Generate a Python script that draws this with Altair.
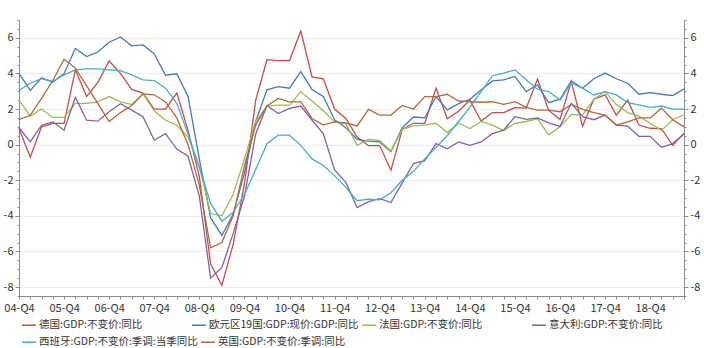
import altair as alt
import pandas as pd

# quarters 04-Q4 .. 19-Q3
quarters = [f"{y:02d}-Q{q}" for y in range(4, 20) for q in range(1, 5)][3:63]

names_a = ["德国:GDP:不变价:同比", "欧元区19国:GDP:现价:GDP:同比", "法国:GDP:不变价:同比", "意大利:GDP:不变价:同比"]
colors_a = ["#C0504D", "#4A78B8", "#9BBB59", "#8064A2"]
names_b = ["西班牙:GDP:不变价:季调:当季同比", "英国:GDP:不变价:季调:同比"]
colors_b = ["#4BACC6", "#B06A3A"]

de = [0.9, -0.7, 1.0, 1.2, 1.2, 4.2, 2.7, 3.5, 4.7, 4.0,
      3.1, 2.9, 2.0, 2.0, 2.9, 0.8, -1.8, -6.7, -7.9, -5.6,
      -2.2, 2.5, 4.77, 4.72, 4.72, 6.38, 3.8, 3.7, 2.0, 1.47,
      0.43, -0.05, -0.05, -1.45, 0.85, 1.2, 1.2, 3.17, 1.45, 1.88,
      2.5, 1.33, 1.8, 1.8, 2.08, 2.05, 3.68, 1.92, 1.42, 3.55,
      1.03, 2.55, 2.8, 1.65, 2.5, 1.1, 0.92, 0.9, -0.05, 0.65]
ez = [4.0, 3.05, 3.75, 3.5, 4.0, 5.4, 4.95, 5.2, 5.75, 6.05,
      5.55, 5.6, 5.1, 3.9, 3.98, 2.7, -0.8, -4.1, -5.1, -3.9,
      -1.6, 1.3, 3.08, 3.26, 3.17, 4.1, 3.1, 2.7, 1.4, 0.95,
      0.3, 0.2, 0.15, -0.4, 0.95, 1.55, 1.5, 2.7, 1.95, 2.3,
      2.55, 3.07, 3.58, 3.64, 3.83, 2.98, 3.36, 2.36, 2.55, 3.58,
      3.17, 3.7, 4.02, 3.7, 3.45, 2.83, 2.92, 2.83, 2.75, 3.13]
fr = [2.5, 1.6, 2.0, 1.53, 1.53, 2.32, 2.32, 2.4, 2.7, 2.4,
      2.25, 2.85, 1.9, 1.37, 1.09, 0.43, -1.2, -3.87, -4.0, -2.8,
      -0.8, 1.3, 2.17, 2.22, 2.22, 2.98, 2.45, 1.9, 1.28, 1.17,
      -0.04, 0.3, 0.22, -0.35, 0.85, 1.05, 1.1, 1.2, 0.68, 1.2,
      0.9, 1.3, 1.1, 0.8, 1.2, 1.3, 1.45, 0.55, 1.0, 1.7,
      1.66, 2.55, 2.98, 2.25, 1.8, 1.6, 1.2, 0.8, 1.4, 1.68]
it = [0.95, 0.17, 1.09, 1.28, 0.81, 2.66, 1.37, 1.32, 1.85, 2.3,
      1.94, 1.57, 0.25, 0.62, -0.25, -0.65, -2.9, -7.5, -6.9, -5.0,
      -2.9, 0.6, 2.2, 1.75, 2.04, 2.17, 1.37, 0.62, -1.42, -2.12,
      -3.53, -3.2, -3.03, -3.25, -2.15, -1.06, -0.9, 0.06, -0.23, 0.15,
      -0.04, 0.15, 0.62, 0.81, 1.57, 1.42, 1.5, 1.22, 1.02, 2.32,
      1.57, 1.4, 1.66, 1.09, 1.04, 0.47, 0.47, -0.15, 0.06, 0.6]
es = [3.04, 3.45, 3.7, 3.55, 3.92, 4.2, 4.25, 4.25, 4.2, 4.15,
      3.92, 3.64, 3.6, 3.17, 2.32, 0.6, -1.3, -3.3, -4.3, -3.8,
      -2.8, -1.4, 0.05, 0.53, 0.53, -0.04, -0.8, -1.17, -1.74, -2.4,
      -3.15, -3.06, -3.1, -2.7, -2.0, -1.5, -0.8, -0.15, 0.5, 1.3,
      2.1, 2.98, 3.87, 4.02, 4.2, 3.64, 3.11, 2.98, 2.5, 3.45,
      3.17, 2.79, 2.98, 2.79, 2.36, 2.23, 2.09, 2.17, 2.0, 2.0]
uk = [1.4, 1.65, 2.6, 3.6, 4.8, 4.3, 3.3, 2.3, 1.3, 1.8,
      2.2, 2.85, 2.8, 2.4, 1.5, 0.0, -2.3, -5.8, -5.5, -4.0,
      -1.2, 1.1, 2.17, 2.6, 2.4, 2.4, 1.47, 1.1, 1.28, 1.22,
      1.05, 1.98, 1.66, 1.66, 2.2, 2.0, 2.7, 2.7, 2.83, 2.45,
      2.42, 2.38, 2.41, 2.26, 2.41, 2.09, 1.94, 1.94, 1.85, 2.26,
      1.98, 1.8, 1.66, 1.1, 1.28, 1.5, 1.5, 2.05, 1.4, 1.0]

y_ticks = [v / 2 for v in range(-17, 15)]
y_domain = [-8.5, 7]

def long(names, series):
    rows = []
    for n, s in zip(names, series):
        for q, v in zip(quarters, s):
            rows.append({"quarter": q, "series": n, "value": v})
    return pd.DataFrame(rows)

df_a = long(names_a, [de, ez, fr, it])
df_b = long(names_b, [es, uk])

FONT = "Noto Sans CJK SC"
major = "datum.value % 2 === 0"
lab = f"{major} ? (datum.value < 0 ? '-' + abs(datum.value) : '' + datum.value) : ''"
AX = "#8C8C8C"

x_enc = alt.X(
    "quarter:O", sort=quarters,
    scale=alt.Scale(type="point", padding=0),
    axis=alt.Axis(title=None, labelAngle=0, labelOverlap=False,
                  labelExpr="slice(datum.label, 3) == 'Q4' ? datum.label : ''",
                  tickSize=3, labelPadding=3, domainColor=AX, tickColor=AX,
                  labelFont=FONT, labelFontSize=11, labelColor="#333333", grid=False),
)

def y_axis(orient, grid):
    return alt.Axis(
        title=None, orient=orient, values=y_ticks, labelExpr=lab, labelOverlap=False,
        tickSize={"condition": {"test": major, "value": 4}, "value": 2},
        grid=grid, gridColor="#EDEDED",
        gridOpacity={"condition": {"test": major, "value": 1}, "value": 0},
        domainColor=AX, tickColor=AX, labelPadding=2,
        labelFont=FONT, labelFontSize=11, labelColor="#333333",
    )

def legend(x, y, cols, align):
    return alt.Legend(
        title=None, orient="none", legendX=x, legendY=y, direction="horizontal",
        columns=cols, gridAlign=align, symbolType="stroke", symbolSize=196,
        symbolStrokeWidth=1.5, labelFont=FONT, labelFontSize=10.5, labelColor="#333333",
        labelLimit=400, columnPadding=0, padding=0, labelOffset=2,
    )

ysc = alt.Scale(domain=y_domain, nice=False, zero=False)

layer_a = alt.Chart(df_a).mark_line(strokeWidth=1.3).encode(
    x=x_enc,
    y=alt.Y("value:Q", scale=ysc, axis=y_axis("left", True)),
    color=alt.Color("series:N", sort=names_a,
                    scale=alt.Scale(domain=names_a, range=colors_a),
                    legend=legend(2, 297, 4, "all")),
    detail="series:N",
)

layer_b = alt.Chart(df_b).mark_line(strokeWidth=1.3).encode(
    x=x_enc,
    y=alt.Y("value:Q", scale=ysc, axis=y_axis("right", False)),
    color=alt.Color("series:N", sort=names_b,
                    scale=alt.Scale(domain=names_b, range=colors_b),
                    legend=legend(2, 314, 2, "each")),
    detail="series:N",
)

chart = alt.layer(layer_a, layer_b).resolve_scale(
    y="independent", color="independent"
).properties(
    width=665, height=276,
    autosize=alt.AutoSizeParams(type="none"),
    padding={"left": 19, "top": 20, "right": 20, "bottom": 52},
    background="white",
).configure_view(stroke=None)

chart.save("out.html", embed_options={"renderer": "svg", "actions": False})
